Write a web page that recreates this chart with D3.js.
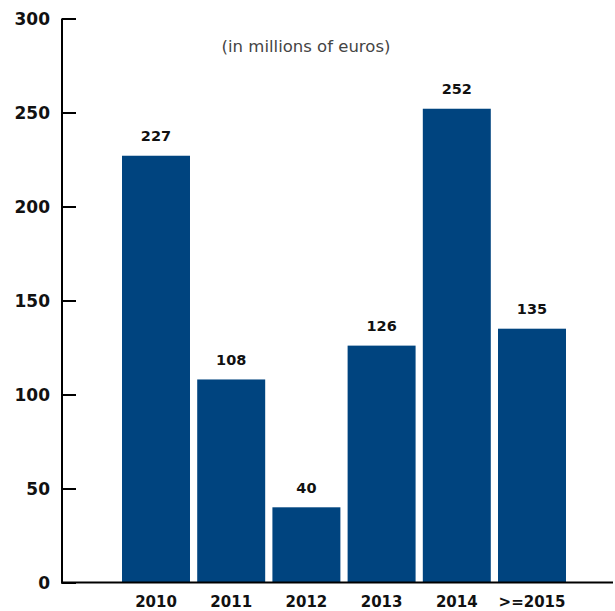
<!DOCTYPE html>
<html>
<head>
<meta charset="utf-8">
<script src="https://cdn.jsdelivr.net/npm/d3@7"></script>
<style>
  html, body { margin: 0; padding: 0; background: #fff; }
  svg { display: block; }
</style>
</head>
<body>
<svg id="chart" width="615" height="611"></svg>
<script>
// Maturity schedule, in millions of euros
const categories = ["2010", "2011", "2012", "2013", "2014", ">=2015"];
const values = [227, 108, 40, 126, 252, 135];
const yTicks = [0, 50, 100, 150, 200, 250, 300];
const subtitle = "(in millions of euros)";

const svg = d3.select("#chart");
const barColor = "#00447f";
const font = "'DejaVu Sans', sans-serif";

const y = d3.scaleLinear().domain([0, 300]).range([582.5, 18.5]);
const x = d3.scaleBand()
  .domain(categories)
  .range([118.4, 569.6])
  .paddingInner(0.096)
  .paddingOuter(0.048);

const axisX = 62;

// bars
svg.append("g")
  .selectAll("rect")
  .data(values)
  .join("rect")
  .attr("x", (d, i) => x(categories[i]))
  .attr("width", x.bandwidth())
  .attr("y", d => y(d))
  .attr("height", d => y(0) - y(d))
  .attr("fill", barColor);

// value labels
svg.append("g")
  .selectAll("text")
  .data(values)
  .join("text")
  .attr("x", (d, i) => x(categories[i]) + x.bandwidth() / 2)
  .attr("y", d => y(d) - 14.5)
  .attr("text-anchor", "middle")
  .attr("font-family", font)
  .attr("font-weight", "bold")
  .attr("font-size", 14.5)
  .attr("fill", "#111")
  .text(d => d);

// y axis: ticks point inward, labels on the left
const yAxis = d3.axisRight(y)
  .tickValues(yTicks)
  .tickSize(14)
  .tickFormat(d3.format("d"));
const gy = svg.append("g").attr("transform", `translate(${axisX},0)`).call(yAxis);
gy.select(".domain").remove();
gy.selectAll(".tick line").attr("stroke", "#000").attr("stroke-width", 2);
gy.selectAll(".tick text")
  .attr("x", -12)
  .attr("dy", "0.36em")
  .attr("text-anchor", "end")
  .attr("font-family", font)
  .attr("font-weight", "bold")
  .attr("font-size", 17)
  .attr("fill", "#111");
svg.append("line")
  .attr("x1", axisX).attr("x2", axisX)
  .attr("y1", y(300)).attr("y2", y(0) + 1)
  .attr("stroke", "#000").attr("stroke-width", 2);

// x axis
const xAxis = d3.axisBottom(x).tickSize(0).tickPadding(0);
const gx = svg.append("g").attr("transform", `translate(0,${y(0)})`).call(xAxis);
gx.select(".domain").remove();
gx.selectAll(".tick text")
  .attr("y", 24.5)
  .attr("dy", 0)
  .attr("font-family", font)
  .attr("font-weight", "bold")
  .attr("font-size", 15)
  .attr("fill", "#111");
svg.append("line")
  .attr("x1", axisX - 1).attr("x2", 613)
  .attr("y1", y(0)).attr("y2", y(0))
  .attr("stroke", "#000").attr("stroke-width", 2);

// unit note
svg.append("text")
  .attr("x", 306)
  .attr("y", 52)
  .attr("text-anchor", "middle")
  .attr("font-family", font)
  .attr("font-weight", "normal")
  .attr("font-size", 16.5)
  .attr("fill", "#444")
  .text(subtitle);
</script>
</body>
</html>
